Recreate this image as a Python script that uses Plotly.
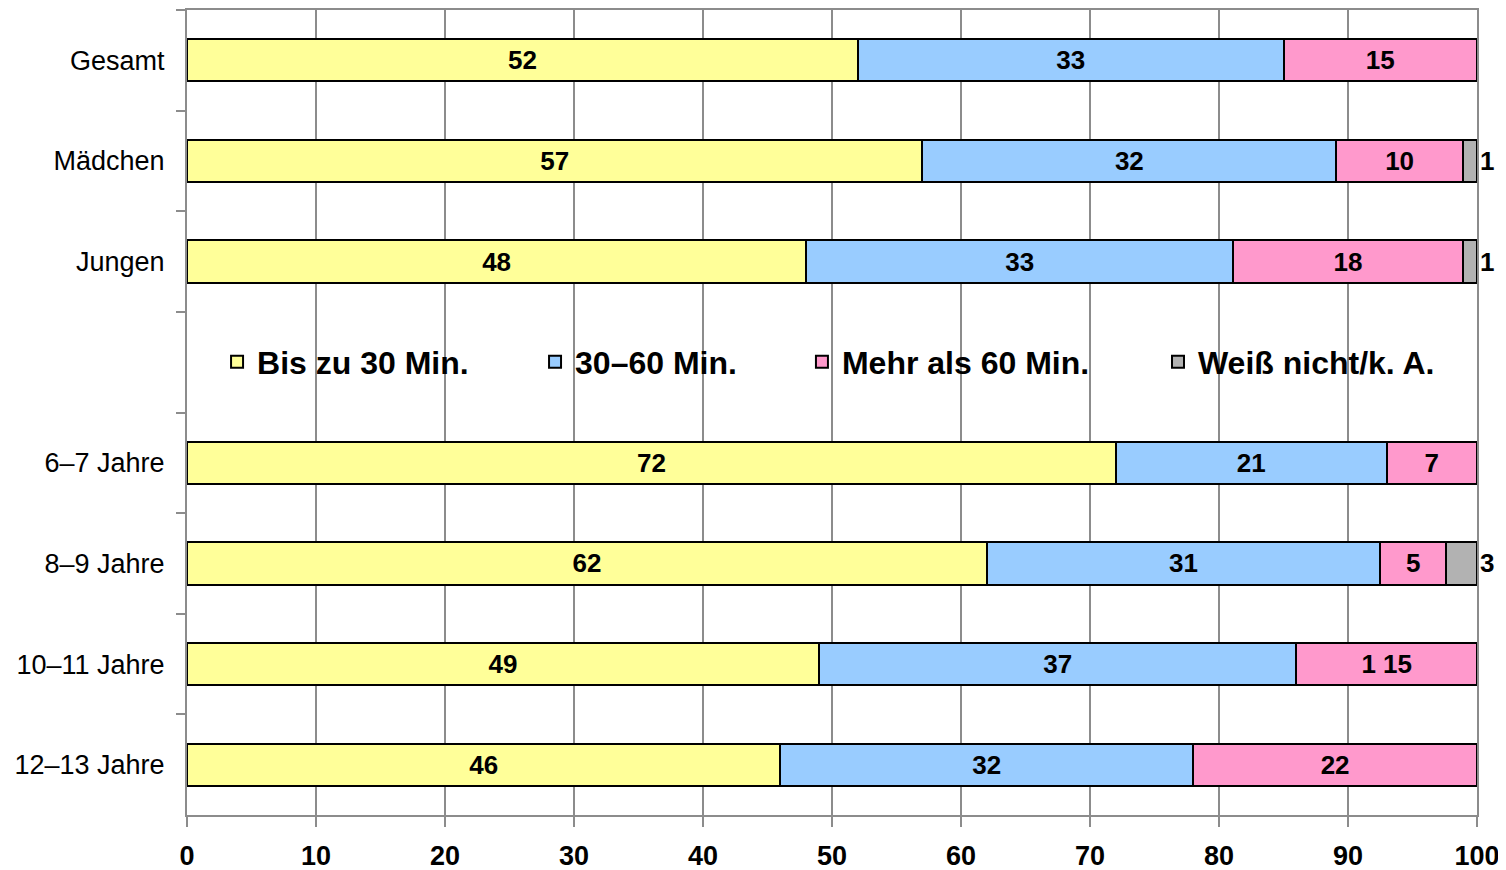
import plotly.graph_objects as go

categories = ["Gesamt", "Mädchen", "Jungen", " ", "6–7 Jahre", "8–9 Jahre", "10–11 Jahre", "12–13 Jahre"]
series_names = ["Bis zu 30 Min.", "30–60 Min.", "Mehr als 60 Min.", "Weiß nicht/k. A."]

# bar lengths (None = empty legend row)
upto30 = [52, 57, 48, None, 72, 62, 49, 46]
m30_60 = [33, 32.1, 33.1, None, 21, 30.5, 37, 32]
over60 = [15, 9.8, 17.8, None, 7, 5.1, 14, 22]
unknown = [0, 1.1, 1.1, None, 0, 2.4, 0, 0]

# data labels as printed in the chart
lab_upto30 = ["52", "57", "48", "", "72", "62", "49", "46"]
lab_30_60 = ["33", "32", "33", "", "21", "31", "37", "32"]
lab_over60 = ["15", "10", "18", "", "7", "5", "1 15", "22"]
lab_unknown = ["", "1", "1", "", "", "3", "", ""]

colors = ["#FFFF99", "#99CCFF", "#FF99CC", "#B2B2B2"]
x_ticks = [0, 10, 20, 30, 40, 50, 60, 70, 80, 90, 100]

FONT = "Liberation Sans, Arial, sans-serif"
GRID = "#8C8C8C"

fig = go.Figure()
values = [upto30, m30_60, over60, unknown]
labels = [lab_upto30, lab_30_60, lab_over60, lab_unknown]
legend_ids = ["legend", "legend2", "legend3", "legend4"]
for i in range(4):
    fig.add_trace(go.Bar(
        y=categories, x=values[i], orientation="h", name=series_names[i],
        marker=dict(color=colors[i], line=dict(color="black", width=2)),
        text=labels[i],
        textposition="outside" if i == 3 else "inside",
        insidetextanchor="middle",
        textangle=0,
        constraintext="none",
        textfont=dict(family=FONT, size=26, color="black", weight="bold"),
        cliponaxis=False,
        legend=legend_ids[i],
        hoverinfo="x+y+name",
    ))

leg_y = 0.5627
leg_xs = [0.0233, 0.2698, 0.4767, 0.7527]
leg_common = dict(orientation="h", yanchor="middle", xanchor="left", y=leg_y,
                  bgcolor="rgba(0,0,0,0)", borderwidth=0,
                  font=dict(family=FONT, size=32, color="black", weight="bold"))

fig.update_layout(
    width=1506, height=870,
    margin=dict(l=179, r=37, t=2, b=63, autoexpand=False),
    plot_bgcolor="white", paper_bgcolor="white",
    barmode="stack", bargap=0.58,
    showlegend=True,
    legend=dict(x=leg_xs[0], **leg_common),
    legend2=dict(x=leg_xs[1], **leg_common),
    legend3=dict(x=leg_xs[2], **leg_common),
    legend4=dict(x=leg_xs[3], **leg_common),
    xaxis=dict(
        range=[0, 100], tickvals=x_ticks, ticktext=[str(v) for v in x_ticks],
        showgrid=True, gridcolor=GRID, gridwidth=2,
        showline=True, linecolor=GRID, linewidth=2, mirror=True,
        ticks="outside", ticklen=10, tickwidth=2, tickcolor=GRID,
        ticklabelstandoff=6,
        tickfont=dict(family=FONT, size=27, color="black", weight="bold"),
        zeroline=False, fixedrange=True, automargin=False,
    ),
    yaxis=dict(
        type="category", categoryorder="array", categoryarray=categories,
        autorange="reversed",
        tickson="boundaries", ticks="outside", ticklen=9, tickwidth=2, tickcolor=GRID,
        showgrid=False,
        showline=True, linecolor=GRID, linewidth=2, mirror=True,
        ticklabelstandoff=15,
        tickfont=dict(family=FONT, size=27, color="black"),
        fixedrange=True, automargin=False,
    ),
)

fig.write_html("out.html")
